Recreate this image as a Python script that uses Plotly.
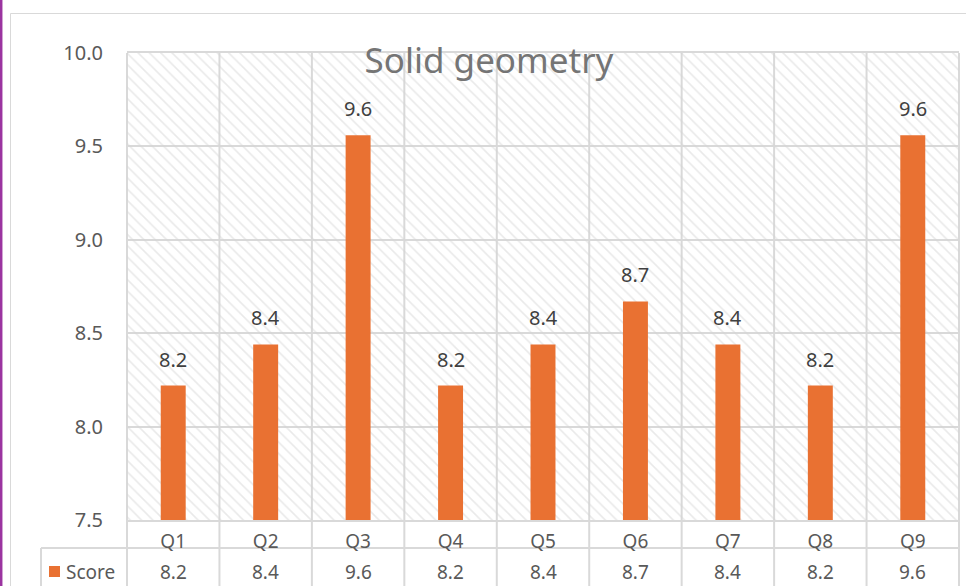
import plotly.graph_objects as go

categories = ["Q1", "Q2", "Q3", "Q4", "Q5", "Q6", "Q7", "Q8", "Q9"]
scores = [8.22, 8.44, 9.56, 8.22, 8.44, 8.67, 8.44, 8.22, 9.56]
series_name = "Score"
title_text = "Solid geometry"
y_min, y_max, y_step = 7.5, 10.0, 0.5

W, H = 966, 586
L, R, T, B = 127, 7, 53, 66
PW, PH = W - L - R, H - T - B

def px_x(p):
    return (p - L) / PW

def px_y(p):
    return (H - B - p) / PH

FONT = "Noto Sans"
ORANGE = "#E97132"
GRID = "#D9D9D9"
TXT = "#595959"

n = len(categories)
idx = list(range(n))

fig = go.Figure()

# hatched plot background (drawn first, below bars)
fig.add_trace(go.Bar(
    x=[(n - 1) / 2], y=[y_max - y_min], base=[y_min], width=[n],
    marker=dict(color="rgba(0,0,0,0)", line=dict(width=0),
                pattern=dict(shape="\\", fgcolor="#D4D4D4", bgcolor="rgba(0,0,0,0)",
                             size=8, solidity=0.2)),
    hoverinfo="skip", showlegend=False,
))

fig.add_trace(go.Bar(
    x=idx, y=scores, width=0.27, marker=dict(color=ORANGE, line=dict(width=0)),
    name=series_name, showlegend=False,
))

# data labels
for i, v in zip(idx, scores):
    fig.add_annotation(x=i, y=v, xref="x", yref="y", text=f"{v:.1f}",
                       showarrow=False, yanchor="bottom", yshift=11,
                       font=dict(family=FONT, size=20, color="#404040"))

shapes = []
for k in range(n + 1):
    shapes.append(dict(type="line", xref="paper", yref="paper",
                       x0=k / n, x1=k / n, y0=1, y1=px_y(H + 5),
                       line=dict(color=GRID, width=2), layer="below"))
shapes.append(dict(type="line", xref="paper", yref="paper",
                   x0=px_x(41), x1=1, y0=px_y(548), y1=px_y(548),
                   line=dict(color=GRID, width=2), layer="below"))
shapes.append(dict(type="line", xref="paper", yref="paper",
                   x0=px_x(41), x1=px_x(41), y0=px_y(548), y1=px_y(H + 5),
                   line=dict(color=GRID, width=2), layer="below"))
shapes.append(dict(type="rect", xref="paper", yref="paper",
                   x0=px_x(10.5), x1=px_x(W + 10), y0=px_y(13.5), y1=px_y(H + 10),
                   line=dict(color=GRID, width=1), layer="below"))
shapes.append(dict(type="line", xref="paper", yref="paper",
                   x0=px_x(1.2), x1=px_x(1.2), y0=px_y(-5), y1=px_y(H + 5),
                   line=dict(color="#9B34A0", width=2.5), layer="above"))
shapes.append(dict(type="rect", xref="paper", yref="paper",
                   x0=px_x(49), x1=px_x(60), y0=px_y(566), y1=px_y(577),
                   fillcolor=ORANGE, line=dict(width=0), layer="above"))

fig.add_annotation(xref="paper", yref="paper", x=px_x(64), y=px_y(572),
                   xanchor="left", yanchor="middle", text=series_name,
                   showarrow=False, font=dict(family=FONT, size=19, color=TXT))
for i, v in zip(idx, scores):
    fig.add_annotation(x=i, xref="x", yref="paper", y=px_y(572), text=f"{v:.1f}",
                       showarrow=False, yanchor="middle",
                       font=dict(family=FONT, size=19, color=TXT))

fig.update_layout(
    width=W, height=H,
    margin=dict(l=L, r=R, t=T, b=B),
    paper_bgcolor="white", plot_bgcolor="white",
    title=dict(text=title_text, x=489 / W, xanchor="center",
               y=1 - 61 / H, yanchor="middle", yref="container",
               font=dict(family=FONT, size=35, color="#757575")),
    shapes=shapes,
    barmode="overlay",
    font=dict(family=FONT),
)
fig.update_xaxes(range=[-0.5, n - 0.5], tickvals=idx, ticktext=categories,
                 showgrid=False, zeroline=False, showline=True, mirror=True,
                 linecolor=GRID, linewidth=2, ticks="", ticklabelstandoff=3,
                 tickfont=dict(family=FONT, size=19, color=TXT))
fig.update_yaxes(range=[y_min, y_max], dtick=y_step, tick0=y_min, tickformat=".1f",
                 showgrid=True, gridcolor=GRID, gridwidth=2, zeroline=False,
                 showline=False, ticks="", ticklabelstandoff=23,
                 tickfont=dict(family=FONT, size=20, color=TXT))

fig.write_html("out.html", config={"displayModeBar": False},
               post_script="document.body.style.margin='0';document.body.style.overflow='hidden';")
